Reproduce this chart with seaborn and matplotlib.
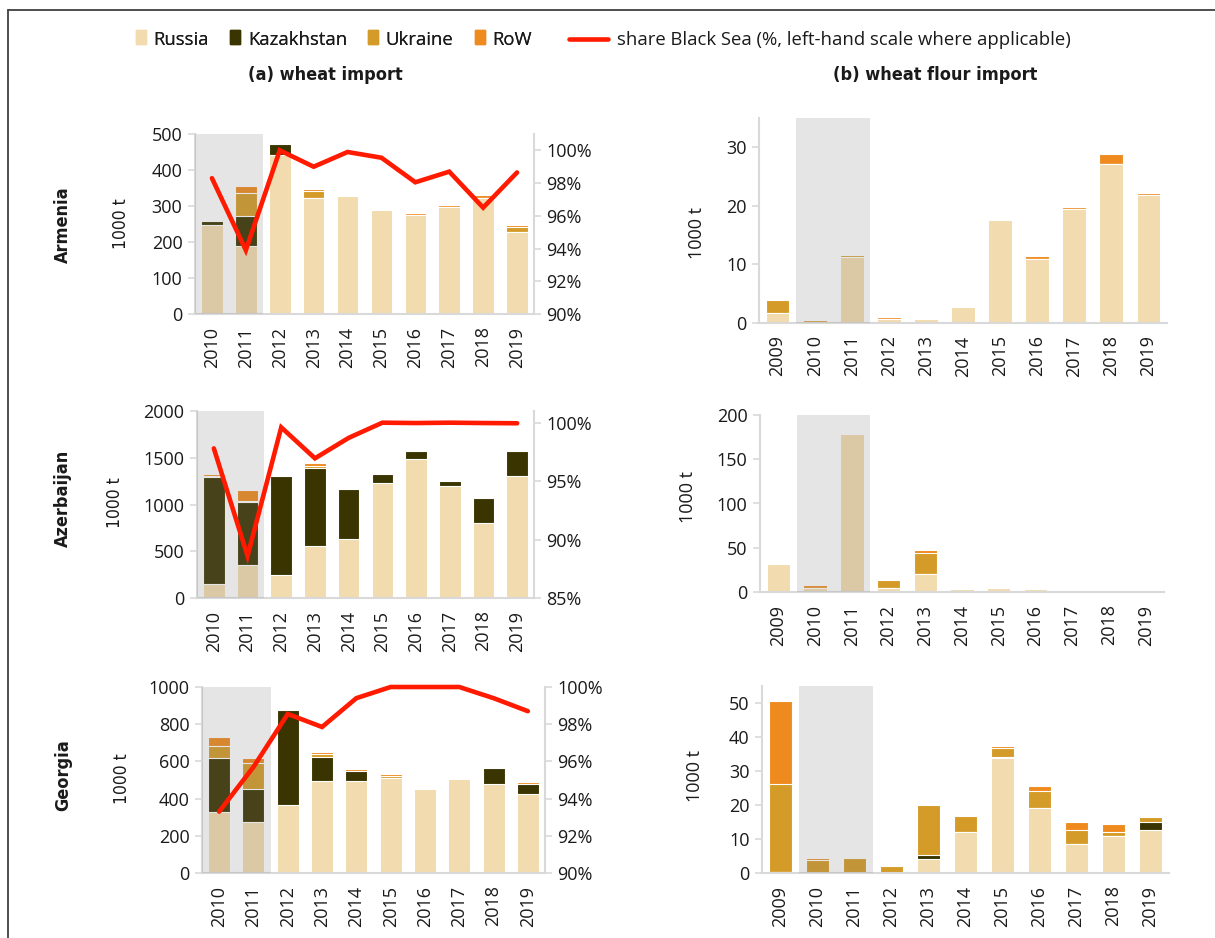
import os
import numpy as np
import pandas as pd
import matplotlib
matplotlib.use("Agg")
import matplotlib.pyplot as plt
import matplotlib.patches as mpatches
from matplotlib.lines import Line2D
from matplotlib.legend_handler import HandlerPatch
from matplotlib import font_manager as fm
import seaborn as sns

# ---------------- data ----------------
years_a = ["2010", "2011", "2012", "2013", "2014", "2015", "2016", "2017", "2018", "2019"]
years_b = ["2009"] + years_a

# (a) wheat import, 1000 t
arm_russia = [248, 190, 443, 323, 329, 290, 274, 296, 321, 227]
arm_kaz = [9, 82, 28, 0, 0, 0, 0, 0, 0, 0]
arm_ukr = [3, 63, 5, 18, 2, 1, 0, 2, 2, 15]
arm_row = [3, 21, 2, 5, 0, 1, 6, 4, 7, 5]
arm_share = [98.3, 93.9, 100.0, 99.0, 99.9, 99.55, 98.05, 98.7, 96.5, 98.65]

aze_russia = [146, 349, 250, 553, 627, 1234, 1483, 1194, 806, 1308]
aze_kaz = [1148, 678, 1051, 841, 535, 89, 89, 57, 260, 261]
aze_ukr = [8, 10, 0, 14, 10, 10, 12, 5, 0, 0]
aze_row = [25, 115, 0, 32, 12, 11, 10, 5, 0, 0]
aze_share = [97.8, 88.6, 99.6, 96.95, 98.7, 100.0, 99.97, 100.0, 99.97, 99.95]

geo_russia = [330, 272, 364, 493, 493, 513, 450, 505, 480, 427]
geo_kaz = [290, 181, 511, 131, 57, 0, 0, 0, 85, 53]
geo_ukr = [63, 140, 5, 18, 0, 10, 0, 0, 0, 0]
geo_row = [48, 25, 9, 9, 7, 11, 0, 0, 0, 7]
geo_share = [93.3, 95.7, 98.55, 97.85, 99.4, 100.0, 100.0, 100.0, 99.4, 98.7]

# (b) wheat flour import, 1000 t
armf_russia = [1.7, 0.2, 11.2, 0.7, 0.7, 2.8, 17.5, 11.0, 19.5, 27.2, 21.8]
armf_kaz = [0, 0, 0, 0, 0, 0, 0, 0, 0, 0, 0]
armf_ukr = [2.2, 0.3, 0.4, 0, 0, 0, 0, 0, 0, 0, 0]
armf_row = [0, 0, 0, 0.4, 0, 0.1, 0, 0.45, 0.35, 1.65, 0.35]

azef_russia = [32, 4, 178, 4.5, 20.7, 3, 4, 3, 1.5, 1.5, 2]
azef_kaz = [0, 0, 0, 0, 0, 0, 0, 0, 0, 0, 0]
azef_ukr = [0, 0, 0, 9.5, 23, 0, 1, 0, 0, 0, 0]
azef_row = [0, 4, 2, 0, 3.4, 0, 0, 0, 0, 0, 0]

geof_russia = [0.4, 0, 0, 0, 4.1, 12.1, 33.7, 19.0, 8.4, 10.8, 12.7]
geof_kaz = [0, 0, 0, 0, 1.3, 0, 0.4, 0, 0, 0, 2.3]
geof_ukr = [25.8, 3.8, 4.4, 2.0, 14.7, 4.6, 2.6, 5.0, 4.3, 1.4, 1.4]
geof_row = [24.3, 0.7, 0, 0, 0, 0, 0.6, 1.5, 2.2, 2.3, 0.3]

countries = ["Armenia", "Azerbaijan", "Georgia"]
series_names = ["Russia", "Kazakhstan", "Ukraine", "RoW"]
line_label = "share Black Sea (%, left-hand scale where applicable)"

# ---------------- style ----------------
C_RUS = "#f2dbae"
C_KAZ = "#3a3400"
C_UKR = "#d49b28"
C_ROW = "#ef8a1e"
C_LINE = "#ff1a00"
C_SPINE = "#d9d9d9"
TXT = "#1a1a1a"

sns.set_style("white")
plt.rcParams["font.family"] = ["Open Sans", "DejaVu Sans"]
plt.rcParams["text.color"] = TXT


def find_condensed(bold):
    files = [f.fname for f in fm.fontManager.ttflist]
    prefs = (["liberationsansnarrow-bold.", "opensans_condensed-bold", "opensans-condensedbold",
              "notosans-condensedbold", "dejavusanscondensed-bold", "robotocondensed-bold"]
             if bold else
             ["liberationsansnarrow-regular", "opensans_condensed-regular", "opensans-condensed",
              "notosans-condensed.", "notosans-condensed-regular", "dejavusanscondensed.",
              "robotocondensed-regular"])
    for p in prefs:
        for fn in files:
            if p in os.path.basename(fn).lower():
                return fm.FontProperties(fname=fn)
    return fm.FontProperties(family=["Lato", "DejaVu Sans"],
                             weight="bold" if bold else "normal")


FP_BOLD = find_condensed(True)
FP_REG = find_condensed(False)

W, H = 1215, 938
fig = plt.figure(figsize=(W / 100, H / 100), dpi=100)


def px_axes(l, r, t, b):
    return fig.add_axes([l / W, 1 - b / H, (r - l) / W, (b - t) / H])


def stacked(ax, years, rus, kaz, ukr, row, ymax, yticks, shade):
    rus = np.array(rus, float)
    kaz = np.array(kaz, float)
    ukr = np.array(ukr, float)
    row = np.array(row, float)
    layers = [
        (rus + kaz + ukr + row, C_ROW),
        (rus + kaz + ukr, C_UKR),
        (rus + kaz, C_KAZ),
        (rus, C_RUS),
    ]
    for vals, col in layers:
        df = pd.DataFrame({"year": years, "v": vals})
        sns.barplot(data=df, x="year", y="v", order=years, color=col, saturation=1,
                    width=0.64, edgecolor="white", linewidth=0.8, errorbar=None, ax=ax)
    n = len(years)
    ax.set_xlim(-0.5, n - 0.5)
    ax.set_ylim(0, ymax)
    ax.set_yticks(yticks)
    ax.axvspan(shade[0], shade[1], color="#7f7f7f", alpha=0.2, lw=0, zorder=3)
    ax.set_xlabel("")
    ax.set_ylabel("")
    for s in ["top", "right"]:
        ax.spines[s].set_visible(False)
    for s in ["left", "bottom"]:
        ax.spines[s].set_color(C_SPINE)
        ax.spines[s].set_linewidth(1.5)
    ax.set_xticks(np.arange(n))
    ax.set_xticklabels(years, rotation=90)
    ax.set_xticks(np.arange(n + 1) - 0.5, minor=True)
    ax.tick_params(axis="x", which="major", length=0, pad=9, labelsize=13, labelcolor=TXT)
    ax.tick_params(axis="x", which="minor", length=5, width=1.2, color=C_SPINE, direction="out")
    ax.tick_params(axis="y", which="major", left=True, length=5, width=1.2, color=C_SPINE,
                   labelsize=13, labelcolor=TXT, pad=4)
    ax.set_facecolor("none")


def share_line(ax, share, ylim, ticks):
    ax2 = ax.twinx()
    x = np.arange(len(share))
    sns.lineplot(x=x, y=share, ax=ax2, color=C_LINE, linewidth=3.3, legend=False,
                 clip_on=False, solid_joinstyle="miter")
    ax2.set_ylim(*ylim)
    ax2.set_yticks(ticks)
    ax2.set_yticklabels([f"{t:.0f}%" for t in ticks])
    ax2.set_xlim(ax.get_xlim())
    ax2.set_ylabel("")
    for s in ["top", "left", "bottom"]:
        ax2.spines[s].set_visible(False)
    ax2.spines["right"].set_color(C_SPINE)
    ax2.spines["right"].set_linewidth(1.5)
    ax2.tick_params(axis="y", right=True, length=5, width=1.2, color=C_SPINE,
                    labelsize=13, labelcolor=TXT, pad=4)
    return ax2


# (a) panels
axA1 = px_axes(195, 534, 134, 314)
stacked(axA1, years_a, arm_russia, arm_kaz, arm_ukr, arm_row, 500, range(0, 501, 100), (-0.5, 1.5))
share_line(axA1, arm_share, (90, 101), range(90, 101, 2))

axA2 = px_axes(197, 534, 411, 598)
stacked(axA2, years_a, aze_russia, aze_kaz, aze_ukr, aze_row, 2000, range(0, 2001, 500), (-0.5, 1.5))
share_line(axA2, aze_share, (85, 101), range(85, 101, 5))

axA3 = px_axes(202, 545, 687, 873)
stacked(axA3, years_a, geo_russia, geo_kaz, geo_ukr, geo_row, 1000, range(0, 1001, 200), (-0.5, 1.5))
share_line(axA3, geo_share, (90, 100), range(90, 101, 2))

# (b) panels
axB1 = px_axes(759, 1167, 118, 323)
stacked(axB1, years_b, armf_russia, armf_kaz, armf_ukr, armf_row, 35, [0, 10, 20, 30], (0.5, 2.5))

axB2 = px_axes(760, 1164, 415, 592)
stacked(axB2, years_b, azef_russia, azef_kaz, azef_ukr, azef_row, 200, range(0, 201, 50), (0.5, 2.5))

axB3 = px_axes(762, 1169, 686, 873)
stacked(axB3, years_b, geof_russia, geof_kaz, geof_ukr, geof_row, 55, range(0, 51, 10), (0.5, 2.5))

# ---------------- texts ----------------
def ftext(x, y, s, fp=None, size=13, **kw):
    if fp is not None:
        fp = fp.copy()
        fp.set_size(size)
        fig.text(x / W, 1 - y / H, s, fontproperties=fp, **kw)
    else:
        fig.text(x / W, 1 - y / H, s, fontsize=size, **kw)


for name, y in zip(countries, [225, 498, 775]):
    ftext(63, y, name, fp=FP_BOLD, size=13, rotation=90, ha="center", va="center")
for x, y in [(121, 224), (115, 503), (122, 779)]:
    ftext(x, y, "1000 t", fp=FP_REG, size=12.5, rotation=90, ha="center", va="center")
for x, y in [(697, 233), (688, 497), (695, 776)]:
    ftext(x, y, "1000 t", size=13, rotation=90, ha="center", va="center")

ftext(325, 75, "(a) wheat import", fp=FP_BOLD, size=13, ha="center", va="center")
ftext(935, 75, "(b) wheat flour import", fp=FP_BOLD, size=13, ha="center", va="center")

# ---------------- legend ----------------
def rect_handle(legend, orig_handle, xdescent, ydescent, width, height, fontsize):
    w, h = 7.5, 10.5
    return mpatches.Rectangle((-xdescent + width - w, -ydescent + height / 2 - h / 2 + 1), w, h)


patch_handles = [mpatches.Patch(color=c, label=n)
                 for c, n in zip([C_RUS, C_KAZ, C_UKR, C_ROW], series_names)]
leg1 = fig.legend(handles=patch_handles, loc="center left",
                  bbox_to_anchor=(135 / W, 1 - 40 / H), ncol=4, frameon=False,
                  fontsize=13.3, handlelength=0.6, handletextpad=0.4, columnspacing=1.1,
                  borderpad=0, borderaxespad=0,
                  handler_map={mpatches.Patch: HandlerPatch(patch_func=rect_handle)})
leg2 = fig.legend(handles=[Line2D([], [], color=C_LINE, lw=3.3, label=line_label)],
                  loc="center left", bbox_to_anchor=(569 / W, 1 - 40 / H), frameon=False,
                  fontsize=13.3, handlelength=2.1, handletextpad=0.5, borderpad=0,
                  borderaxespad=0)
fig.add_artist(leg1)

# figure frame (top and left)
fig.add_artist(Line2D([8 / W, 8 / W], [0, 1 - 10 / H], color="#404040", lw=1.3,
                      transform=fig.transFigure))
fig.add_artist(Line2D([8 / W, 1], [1 - 10 / H, 1 - 10 / H], color="#404040", lw=1.3,
                      transform=fig.transFigure))

fig.savefig("out.png", dpi=100, facecolor="white")
